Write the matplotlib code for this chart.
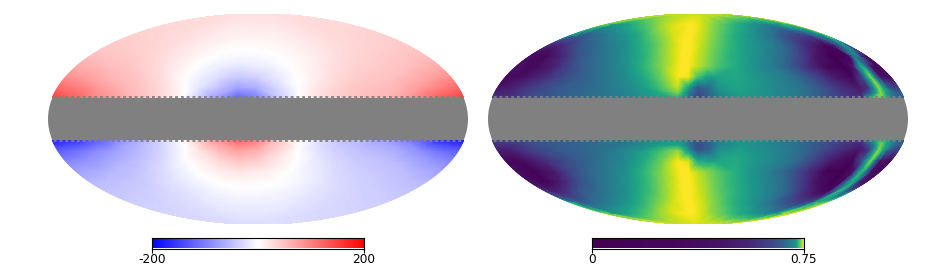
# recreate the two mollview-like maps
import numpy as np
import matplotlib
matplotlib.use('Agg')
import matplotlib.pyplot as plt
import matplotlib.tri as mtri
from matplotlib.patches import Ellipse, Rectangle

W, H = 927, 276

# rows = height above/below equator (fraction of semi-minor axis)
# columns = fraction of the half width of the ellipse at that row
left_rows = [.2, .3, .4, .5, .6, .7, .8, .9, 1.]
left_cols = np.round(np.arange(-10, 11) / 10, 1)

left_north = [
    [150, 125, 95, 75, 55, 35, 12, -30, -75, -120, -95, -40, 0, 25, 40, 50, 55, 70, 100, 130, 150],
    [115, 100, 80, 62, 48, 32, 10, -18, -45, -70, -60, -30, 0, 20, 35, 45, 50, 58, 75, 95, 115],
    [85, 75, 62, 52, 40, 26, 5, -12, -28, -42, -34, -16, -1, 13, 28, 38, 44, 48, 58, 72, 85],
    [65, 58, 50, 44, 34, 22, 8, -5, -13, -18, -14, -7, 3, 13, 24, 32, 38, 42, 48, 56, 65],
    [50, 46, 42, 38, 30, 20, 11, 3, -3, -5, -4, -1, 5, 11, 20, 28, 34, 38, 42, 46, 50],
    [42, 40, 37, 33, 28, 22, 15, 9, 5, 3, 4, 6, 9, 14, 20, 26, 30, 33, 36, 39, 42],
    [36, 35, 33, 30, 27, 23, 18, 14, 12, 11, 11, 12, 14, 18, 22, 26, 29, 31, 33, 35, 36],
    [30, 30, 29, 28, 26, 24, 21, 19, 18, 18, 18, 18, 19, 21, 24, 26, 28, 29, 30, 30, 30],
    [25] * 21,
]
left_south = [
    [-175, -160, -130, -95, -65, -40, -12, 35, 80, 120, 95, 45, 0, -25, -45, -55, -70, -90, -125, -165, -180],
    [-125, -110, -90, -72, -55, -36, -10, 20, 50, 72, 60, 30, 0, -22, -38, -48, -55, -65, -85, -110, -125],
    [-95, -85, -72, -58, -45, -30, -6, 12, 30, 44, 36, 18, 0, -16, -30, -40, -46, -52, -65, -80, -95],
    [-72, -65, -56, -48, -38, -24, -9, 5, 14, 20, 15, 7, -3, -14, -26, -34, -40, -45, -52, -62, -72],
    [-55, -50, -46, -42, -32, -22, -12, -4, 3, 5, 4, 1, -5, -12, -22, -30, -36, -40, -45, -50, -55],
    [-45, -43, -40, -35, -30, -24, -16, -10, -6, -4, -5, -7, -10, -15, -22, -28, -32, -36, -39, -42, -45],
    [-38, -37, -35, -32, -28, -24, -19, -15, -13, -12, -12, -13, -15, -19, -23, -27, -30, -33, -35, -37, -38],
    [-32, -32, -31, -29, -27, -25, -22, -20, -19, -19, -19, -19, -20, -22, -25, -27, -29, -30, -31, -32, -32],
    [-26] * 21,
]

# right map is stored as position along the colour scale (histogram-like stretch)
right_rows = [.2, .25, .3, .4, .5, .6, .7, .8, .9, 1.]
right_cols = [-1, -.95, -.9, -.8, -.7, -.6, -.5, -.4, -.3, -.2, -.1, -.05, 0, .05, .1,
              .2, .3, .4, .5, .6, .7, .8, .85, .9, .925, .95, .975, 1]

right_north = [
    [.18, .15, .17, .25, .3, .33, .38, .42, .48, .55, .65, .38, .22, .3, .45, .55, .52, .47, .4, .3, .2, .14, .7, .8, .55, .4, .33, .3],
    [.1, .1, .14, .22, .28, .32, .37, .42, .5, .6, .82, .48, .24, .32, .48, .57, .52, .46, .4, .29, .17, .1, .35, .85, .6, .4, .3, .3],
    [.05, .08, .12, .2, .27, .31, .37, .44, .53, .68, .92, .6, .28, .35, .52, .58, .53, .46, .4, .28, .15, .07, .15, .85, .6, .3, .2, .2],
    [.02, .03, .05, .12, .22, .3, .38, .46, .58, .76, 1, .98, .72, .57, .58, .6, .53, .46, .37, .22, .08, .02, .2, .85, .35, .06, .03, .03],
    [.05, .03, .02, .08, .22, .33, .41, .5, .65, .82, 1, 1, .9, .82, .73, .62, .52, .42, .3, .14, .02, 0, .05, .65, .45, .05, .02, .05],
    [.04, .02, .02, .12, .27, .36, .44, .54, .67, .84, 1, 1, .92, .84, .76, .63, .54, .46, .36, .22, .06, 0, 0, .03, .45, .45, .08, .04],
    [.12, .08, .12, .25, .33, .41, .48, .6, .72, .87, 1, 1, .94, .87, .79, .67, .57, .5, .42, .3, .15, .05, .02, .05, .12, .4, .55, .3],
    [.6, .33, .3, .37, .43, .5, .58, .7, .82, .93, 1, 1, .95, .9, .84, .72, .61, .53, .45, .35, .25, .2, .2, .27, .35, .45, .6, .8],
    [.9, .6, .52, .57, .63, .7, .78, .86, .93, .98, 1, 1, .97, .93, .88, .8, .72, .64, .58, .52, .46, .48, .52, .58, .63, .7, .8, .92],
    [.93] * 28,
]
right_south = [
    [.22, .2, .22, .28, .3, .32, .35, .38, .42, .47, .5, .4, .3, .32, .42, .5, .48, .42, .35, .27, .2, .17, .5, .75, .55, .42, .35, .3],
    [.14, .14, .16, .24, .29, .31, .35, .39, .45, .55, .62, .42, .24, .3, .45, .53, .49, .43, .36, .26, .17, .1, .3, .82, .6, .42, .32, .28],
    [.07, .08, .12, .21, .27, .31, .36, .43, .53, .68, .85, .55, .25, .33, .5, .57, .51, .45, .37, .25, .13, .05, .15, .85, .6, .3, .2, .17],
    [.02, .02, .04, .12, .22, .3, .38, .46, .58, .76, 1, .95, .62, .58, .59, .61, .53, .46, .36, .2, .06, .01, .25, .85, .3, .05, .03, .03],
    [.04, .02, .01, .06, .22, .33, .41, .5, .65, .82, 1, 1, .9, .83, .75, .63, .52, .42, .3, .14, .01, 0, .05, .7, .45, .05, .02, .04],
    [.05, .02, .01, .1, .25, .36, .44, .54, .67, .84, 1, 1, .93, .86, .78, .65, .55, .46, .36, .2, .05, 0, .02, .55, .62, .15, .05, .04],
    [.2, .1, .12, .25, .33, .41, .48, .6, .72, .87, 1, 1, .94, .88, .8, .69, .59, .5, .42, .3, .14, .04, .03, .25, .75, .45, .3, .5],
    [.7, .35, .3, .37, .43, .5, .58, .7, .82, .93, 1, 1, .96, .91, .85, .73, .62, .54, .45, .35, .25, .2, .22, .35, .6, .75, .82, .88],
    [.92, .62, .52, .57, .63, .7, .78, .86, .93, .98, 1, 1, .97, .93, .88, .81, .73, .65, .59, .53, .48, .5, .55, .72, .82, .88, .92, .95],
    [.95] * 28,
]

# colour position along the right colour bar
cbar_vals = [0, .3, .45, .55, .64, .68, .72, .735, .745, .75]
cbar_pos = [.0, .02, .05, .1, .22, .32, .5, .72, .9, 1.]

band_edge = 0.2


def draw_half(ax, cols, rows, table, sign, cmap, vmin, vmax):
    S, V = np.meshgrid(cols, rows)
    tr = mtri.Triangulation(S.ravel(), V.ravel())
    z = np.array(table, dtype=float).ravel()
    refiner = mtri.UniformTriRefiner(tr)
    fine, zf = refiner.refine_field(z, triinterpolator=mtri.LinearTriInterpolator(tr, z), subdiv=4)
    x = fine.x * np.sqrt(np.clip(1 - fine.y**2, 0, 1))
    y = sign * fine.y
    ax.tripcolor(mtri.Triangulation(x, y, triangles=fine.triangles), zf,
                 shading='gouraud', cmap=cmap, vmin=vmin, vmax=vmax, rasterized=True)


def map_axes(x0, north, south, cols, rows, cmap, vmin, vmax):
    ax = fig.add_axes([x0 / W, 1 - 224 / H, 420 / W, 210 / H])
    draw_half(ax, cols, rows, north, 1, cmap, vmin, vmax)
    draw_half(ax, cols, rows, south, -1, cmap, vmin, vmax)
    clip = Ellipse((0, 0), 2, 2, transform=ax.transData)
    band = Rectangle((-1, -band_edge), 2, 2 * band_edge, fc='#808080', ec='none', zorder=3)
    ax.add_patch(band)
    band.set_clip_path(clip)
    for e in (band_edge, -band_edge):
        ln, = ax.plot([-1, 1], [e + np.sign(e) * .006] * 2, color='#808080', lw=1.3,
                      linestyle=(0, (1.6, 1.6)), zorder=3)
        ln.set_clip_path(clip)
    ax.set_xlim(-1, 1)
    ax.set_ylim(-1, 1)
    ax.axis('off')
    return ax


def colour_bar(x0, grad, cmap, vmin, vmax, labels):
    cax = fig.add_axes([x0 / W, 1 - 248.5 / H, 212 / W, 10.5 / H])
    cax.imshow(grad[None, :], aspect='auto', cmap=cmap, vmin=vmin, vmax=vmax,
               extent=[0, 1, 0, 1], interpolation='bilinear')
    cax.set_yticks([])
    cax.set_xticks([0, 1])
    cax.set_xticklabels(labels)
    cax.tick_params(axis='x', length=3, width=.8, pad=.5, labelsize=8.7)
    for sp in cax.spines.values():
        sp.set_linewidth(.8)


fig = plt.figure(figsize=(W / 100, H / 100), dpi=100)

map_axes(48, left_north, left_south, left_cols, left_rows, 'bwr', -200, 200)
map_axes(488, right_north, right_south, right_cols, right_rows, 'viridis', 0, 1)

colour_bar(152, np.linspace(-200, 200, 256), 'bwr', -200, 200, ['-200', '200'])
colour_bar(592, np.interp(np.linspace(0, .75, 512), cbar_vals, cbar_pos), 'viridis', 0, 1, ['0', '0.75'])

fig.savefig('out.png', dpi=100)
